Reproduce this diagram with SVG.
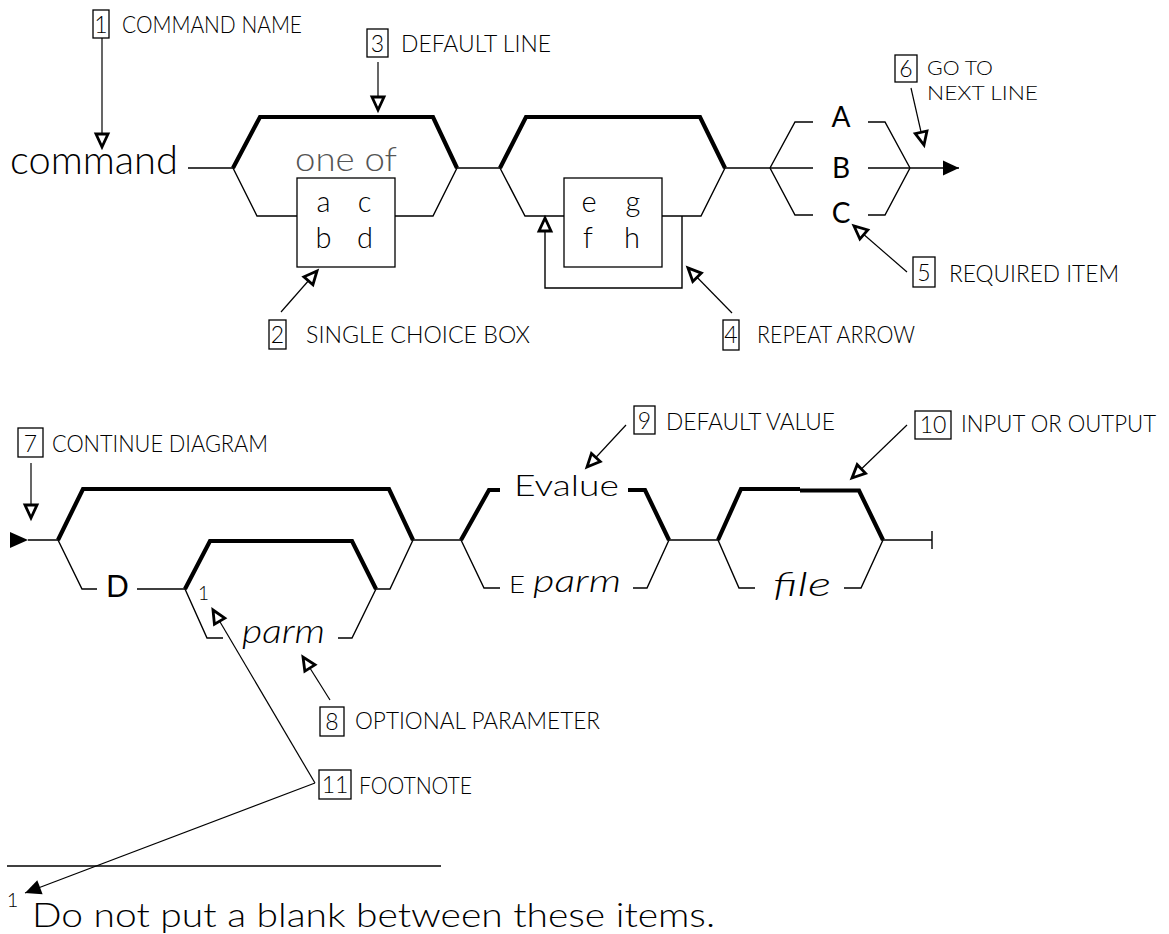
<svg xmlns="http://www.w3.org/2000/svg" width="1169" height="934" viewBox="0 0 1169 934">
<style>
text{font-family:Lato,"Liberation Sans",sans-serif;font-weight:300;fill:#000}
.lbl{font-size:23px}
.lbs{font-size:20px}
.num{font-size:23px;text-anchor:middle}
.nb{fill:none;stroke:#000;stroke-width:1.3}
.big{font-size:40px}
.mid{font-size:29px;text-anchor:middle}
.cap{font-size:28px;text-anchor:middle;font-weight:400}
.it{font-style:italic}
.thin{fill:none;stroke:#000;stroke-width:1.4;stroke-linejoin:miter}
.thick{fill:none;stroke:#000;stroke-width:4.2;stroke-linejoin:miter}
.ldr{fill:none;stroke:#000;stroke-width:1.2}
.lo{marker-end:url(#open)}
.lf{marker-end:url(#solid)}
</style>
<defs>
<marker id="open" markerUnits="userSpaceOnUse" viewBox="-16 -9 18 18" refX="0" refY="0" markerWidth="18" markerHeight="18" orient="auto" overflow="visible">
<path d="M0,0 L-13,-6 L-13,6 Z" fill="#fff" stroke="#000" stroke-width="2.8" stroke-linejoin="miter"/>
</marker>
<marker id="solid" markerUnits="userSpaceOnUse" viewBox="-18 -9 20 18" refX="0" refY="0" markerWidth="20" markerHeight="18" orient="auto" overflow="visible">
<path d="M0,0 L-16,-7.5 L-16,7.5 Z" fill="#000"/>
</marker>
</defs>

<!-- Row 1 syntax diagram -->
<g id="command">
<text class="big" x="10" y="174" textLength="168" lengthAdjust="spacingAndGlyphs">command</text>
</g>
<g id="block-one-of">
<path class="thick" d="M233,168 L260,117 L433,117 L457,168"/>
<path class="thin" d="M233,168 L257,216 L297,216 M395,216 L433,216 L457,168"/>
<text x="295" y="171" font-size="34" style="fill:#555" textLength="102" lengthAdjust="spacingAndGlyphs">one of</text>
<rect class="nb" x="297" y="178" width="98" height="89"/>
<text class="mid" x="323.5" y="212">a</text>
<text class="mid" x="364.5" y="212">c</text>
<text class="mid" x="323.5" y="248">b</text>
<text class="mid" x="365" y="248">d</text>
</g>
<g id="block-repeat">
<path class="thick" d="M500,168 L526,117 L700,117 L725,168"/>
<path class="thin" d="M500,168 L525,216 L564,216 M662,216 L701,216 L725,168"/>
<rect class="nb" x="564" y="178" width="98" height="89"/>
<text class="mid" x="589" y="212">e</text>
<text class="mid" x="633" y="212">g</text>
<text class="mid" x="588" y="248">f</text>
<text class="mid" x="632" y="248">h</text>
</g>
<g id="block-required">
<path class="thin" d="M770,168 L795,122 L813,122 M770,168 L795,215 L813,215 M868,122 L885,122 L910,168 M868,215 L885,215 L910,168"/>
<text class="cap" x="841" y="127">A</text>
<text class="cap" x="841" y="178">B</text>
<text class="cap" x="841" y="223">C</text>
</g>

<!-- Row 2 syntax diagram -->
<g id="block-D">
<polygon points="10,532 28,540 10,548" fill="#000"/>
<path class="thick" d="M58,540 L83,489 L389,489 L413,540"/>
<path class="thin" d="M58,540 L82,589 L97,589 M137,589 L185,589 M376,589 L390,589 L413,540"/>
<text x="117.5" y="597" font-size="30" text-anchor="middle" style="font-weight:400">D</text>
</g>
<g id="block-parm">
<path class="thick" d="M185,589 L210,541 L352,541 L376,589"/>
<path class="thin" d="M185,589 L207,638 L223,638 M338,638 L352,638 L376,589"/>
<text x="203.5" y="600" font-size="19" text-anchor="middle">1</text>
<text class="it" x="242" y="643" font-size="34" textLength="83" lengthAdjust="spacingAndGlyphs">parm</text>
</g>
<g id="block-E">
<path class="thick" d="M461,540 L489,490 L500,490 M628,490 L645,490 L669,540"/>
<path class="thin" d="M461,540 L484,588 L500,588 M633,588 L647,588 L669,540"/>
<text x="514" y="496" font-size="29" textLength="105" lengthAdjust="spacingAndGlyphs">Evalue</text>
<text x="509" y="593" font-size="23" textLength="16" lengthAdjust="spacingAndGlyphs">E</text>
<text class="it" x="533" y="592" font-size="32" textLength="88" lengthAdjust="spacingAndGlyphs">parm</text>
</g>
<g id="block-file">
<path class="thick" d="M718,540 L741,489 L800,489 M800,490.5 L859,490.5 L883,540"/>
<path class="thin" d="M718,540 L739,588 L755,588 M844,588 L861,588 L883,540"/>
<text class="it" x="773" y="596" font-size="34" textLength="58" lengthAdjust="spacingAndGlyphs">file</text>
</g>

<!-- Callout labels -->
<g id="label-1">
<rect class="nb" x="93" y="10" width="16" height="28"/>
<text class="num" x="101" y="33">1</text>
<text class="lbl" x="122" y="33" textLength="180" lengthAdjust="spacingAndGlyphs">COMMAND NAME</text>
</g>
<g id="label-3">
<rect class="nb" x="367" y="29" width="21" height="28"/>
<text class="num" x="377.5" y="52">3</text>
<text class="lbl" x="401" y="52" textLength="150" lengthAdjust="spacingAndGlyphs">DEFAULT LINE</text>
</g>
<g id="label-6">
<rect class="nb" x="895" y="55" width="22" height="27"/>
<text class="num" x="906" y="77">6</text>
<text class="lbs" x="927" y="75" textLength="66" lengthAdjust="spacingAndGlyphs">GO TO</text>
<text class="lbs" x="927" y="100" textLength="111" lengthAdjust="spacingAndGlyphs">NEXT LINE</text>
</g>
<g id="label-5">
<rect class="nb" x="913" y="257" width="22" height="30"/>
<text class="num" x="924" y="281">5</text>
<text class="lbl" x="949" y="282" textLength="170" lengthAdjust="spacingAndGlyphs">REQUIRED ITEM</text>
</g>
<g id="label-2">
<rect class="nb" x="269" y="320" width="17" height="29"/>
<text class="num" x="277.5" y="343">2</text>
<text class="lbl" x="306" y="343" textLength="224" lengthAdjust="spacingAndGlyphs">SINGLE CHOICE BOX</text>
</g>
<g id="label-4">
<rect class="nb" x="723" y="320" width="16" height="30"/>
<text class="num" x="731" y="343">4</text>
<text class="lbl" x="757" y="343" textLength="158" lengthAdjust="spacingAndGlyphs">REPEAT ARROW</text>
</g>
<g id="label-7">
<rect class="nb" x="18" y="428" width="25" height="29"/>
<text class="num" x="30.5" y="452">7</text>
<text class="lbl" x="52" y="452" textLength="216" lengthAdjust="spacingAndGlyphs">CONTINUE DIAGRAM</text>
</g>
<g id="label-9">
<rect class="nb" x="634" y="406" width="21" height="28"/>
<text class="num" x="644.5" y="429">9</text>
<text class="lbl" x="666" y="430" textLength="169" lengthAdjust="spacingAndGlyphs">DEFAULT VALUE</text>
</g>
<g id="label-10">
<rect class="nb" x="915" y="411" width="36" height="28"/>
<text class="num" x="933" y="433">10</text>
<text class="lbl" x="961" y="432" textLength="195" lengthAdjust="spacingAndGlyphs">INPUT OR OUTPUT</text>
</g>
<g id="label-8">
<rect class="nb" x="320" y="707" width="24" height="29"/>
<text class="num" x="332" y="730">8</text>
<text class="lbl" x="355" y="729" textLength="245" lengthAdjust="spacingAndGlyphs">OPTIONAL PARAMETER</text>
</g>
<g id="label-11">
<rect class="nb" x="319" y="770" width="32" height="29"/>
<text class="num" x="335" y="793">11</text>
<text class="lbl" x="359" y="794" textLength="113" lengthAdjust="spacingAndGlyphs">FOOTNOTE</text>
</g>

<!-- Footnote -->
<g id="footnote">
<line class="thin" x1="7" y1="866" x2="441" y2="866" style="stroke-width:1.3"/>
<text x="12.5" y="907" font-size="20" text-anchor="middle">1</text>
<text x="32" y="927" font-size="34" textLength="683" lengthAdjust="spacingAndGlyphs">Do not put a blank between these items.</text>
</g>

<!-- Connectors -->
<g id="connectors">
<path class="thin" d="M188,168 H233 M457,168 H500 M725,168 H770"/>
<path class="thin" d="M770,168 H813"/>
<path class="thin lf" d="M868,168 H959"/>
<path class="thin lo" d="M682,216 V288 H545 V218"/>
<path class="thin" d="M28,540 H58 M413,540 H461 M669,540 H718 M883,540 H932 M932,531 V549"/>
<line class="ldr lo" x1="102" y1="38" x2="102" y2="147"/>
<line class="ldr lo" x1="378" y1="62" x2="378" y2="110"/>
<line class="ldr lo" x1="911" y1="88" x2="924" y2="145"/>
<line class="ldr lo" x1="907" y1="272" x2="854" y2="226"/>
<line class="ldr lo" x1="281" y1="312" x2="317" y2="271"/>
<line class="ldr lo" x1="732" y1="313" x2="688" y2="268"/>
<line class="ldr lo" x1="31" y1="463" x2="31" y2="518"/>
<line class="ldr lo" x1="626" y1="425" x2="587" y2="467"/>
<line class="ldr lo" x1="907" y1="425" x2="852" y2="478"/>
<line class="ldr lo" x1="330" y1="700" x2="303" y2="657"/>
<line class="ldr lo" x1="315" y1="783" x2="213" y2="610"/>
<line class="ldr lf" x1="315" y1="783" x2="25" y2="893"/>
</g>
</svg>
